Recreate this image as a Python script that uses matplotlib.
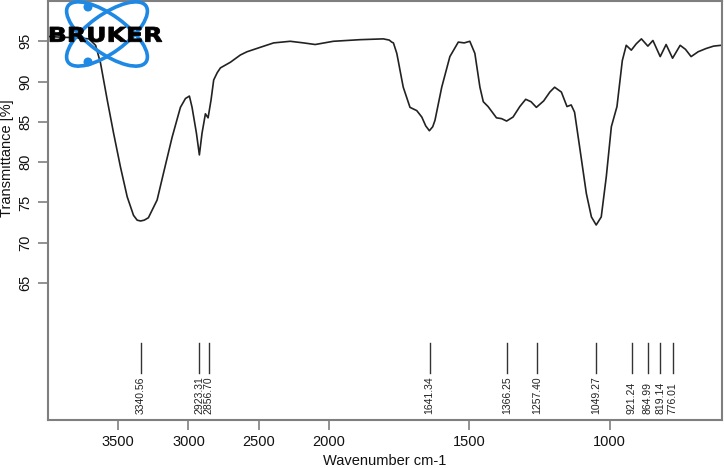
import numpy as np
import matplotlib
matplotlib.use("Agg")
import matplotlib.pyplot as plt
from matplotlib.patches import Ellipse, Circle, PathPatch
from matplotlib.textpath import TextPath
from matplotlib.font_manager import FontProperties
from matplotlib.transforms import Affine2D

plt.rcParams['font.family'] = ['Liberation Sans', 'DejaVu Sans']

# spectrum: wavenumber (cm-1) and transmittance (%)
wavenumber = [4000, 3900, 3800, 3709, 3661, 3626, 3578, 3533, 3484, 3436, 3391, 3365, 3341,
              3315, 3285, 3223, 3178, 3116, 3057, 3021, 2993, 2974, 2943, 2922, 2903, 2879,
              2860, 2839, 2820, 2795, 2772, 2701, 2630, 2583, 2480, 2393, 2275, 2180, 2097,
              1984, 1889, 1806, 1785, 1776, 1770, 1758, 1753, 1740, 1735, 1711, 1687, 1669, 1655,
              1642, 1630, 1622, 1598, 1569, 1539, 1518, 1498, 1480, 1462, 1450, 1433, 1403,
              1385, 1367, 1344, 1320, 1299, 1280, 1261, 1235, 1213, 1196, 1172, 1152, 1137,
              1125, 1107, 1083, 1065, 1048, 1030, 1012, 994, 974, 955, 941, 923, 905, 887,
              864, 846, 820, 799, 776, 749, 730, 710, 685, 657, 630, 604, 600]
transmittance = [95.6, 95.5, 95.45, 95.3, 94.5, 92.3, 87.7, 83.6, 79.4, 75.7, 73.4, 72.8, 72.7,
                 72.8, 73.1, 75.3, 78.6, 83.1, 86.8, 87.9, 88.2, 86.8, 83.6, 80.9, 83.6, 86.0,
                 85.5, 87.7, 90.2, 91.1, 91.7, 92.4, 93.3, 93.7, 94.3, 94.8, 95.0, 94.8, 94.6,
                 95.0, 95.2, 95.3, 95.15, 94.9, 94.8, 93.5, 92.6, 90.2, 89.3, 86.8, 86.4, 85.6, 84.5,
                 83.9, 84.4, 85.2, 89.3, 93.1, 94.9, 94.8, 95.0, 93.5, 89.3, 87.5, 86.9, 85.5,
                 85.4, 85.1, 85.6, 86.9, 87.8, 87.5, 86.8, 87.6, 88.7, 89.3, 88.7, 86.9, 87.1,
                 86.2, 81.9, 76.1, 73.2, 72.2, 73.2, 78.2, 84.4, 86.9, 92.6, 94.5, 93.9, 94.7,
                 95.3, 94.4, 95.1, 93.1, 94.6, 92.9, 94.5, 94.0, 93.1, 93.7, 94.1, 94.4, 94.5, 94.5]

peak_positions = [3340.56, 2923.31, 2856.70, 1641.34, 1366.25, 1257.40, 1049.27,
                  921.24, 864.99, 819.14, 776.01]
x_ticks = [3500, 3000, 2500, 2000, 1500, 1000]
y_ticks = [65, 70, 75, 80, 85, 90, 95]


# OPUS style axis: double scale below 2000 cm-1
def fwd(w):
    w = np.asarray(w, dtype=float)
    return np.where(w >= 2000, w, 2 * w - 2000)


def inv(u):
    u = np.asarray(u, dtype=float)
    return np.where(u >= 2000, u, (u + 2000) / 2)


fig = plt.figure(figsize=(7.24, 4.68), dpi=100)
ax = fig.add_axes([48 / 724, 48 / 468, 674 / 724, 419 / 468])
ax.set_xscale('function', functions=(fwd, inv))
ax.plot(wavenumber, transmittance, color='#222222', lw=1.2)
ax.set_xlim(4000, 600)
ax.set_ylim(48, 100)

ax.set_xticks(x_ticks)
ax.set_xticklabels([str(t) for t in x_ticks])
ax.xaxis.set_minor_locator(matplotlib.ticker.NullLocator())
ax.set_yticks(y_ticks)
ax.set_yticklabels([str(t) for t in y_ticks], rotation=90, va='center')
ax.tick_params(axis='both', direction='out', length=7, width=1.2, color='#7f7f7f',
               labelsize=10.5, labelcolor='#111111')
ax.tick_params(axis='x', pad=4)
ax.tick_params(axis='y', pad=4)
for s in ax.spines.values():
    s.set_color('#7f7f7f')
    s.set_linewidth(1.5)

ax.set_xlabel("Wavenumber cm-1", fontsize=10.5, color='#111111')
ax.xaxis.set_label_coords(0.5, -0.082)
ax.set_ylabel("Transmittance [%]", fontsize=10.5, color='#111111')
ax.yaxis.set_label_coords(-0.05, 0.625)

# peak markers
for p in peak_positions:
    ax.plot([p, p], [53.8, 57.5], color='#333333', lw=1)
    ax.text(p, 48.7, f"{p:.2f}", rotation=90, ha='center', va='bottom',
            fontsize=7.5, color='#222222')

# Bruker logo, drawn in pixel coordinates
lg = fig.add_axes([0, 0, 1, 1], zorder=5)
lg.set_xlim(0, 724)
lg.set_ylim(468, 0)
lg.set_axis_off()
blue = '#1E88E5'
for ang in (36, -36):
    lg.add_patch(Ellipse((107, 34), 96, 38, angle=ang, fill=False, ec=blue, lw=2.6))
lg.add_patch(Circle((88, 7), 3.8, color=blue))
lg.add_patch(Circle((88, 62), 3.8, color=blue))
tp = TextPath((0, 0), "BRUKER", size=20, prop=FontProperties(family='DejaVu Sans', weight='bold'))
ext = tp.get_extents()
tr = Affine2D().translate(-ext.x0, -ext.y0).scale(112 / ext.width, -15 / ext.height).translate(50, 42)
lg.add_patch(PathPatch(tr.transform_path(tp), fc='black', ec='black', lw=0.6))

fig.savefig("out.png", dpi=100)
